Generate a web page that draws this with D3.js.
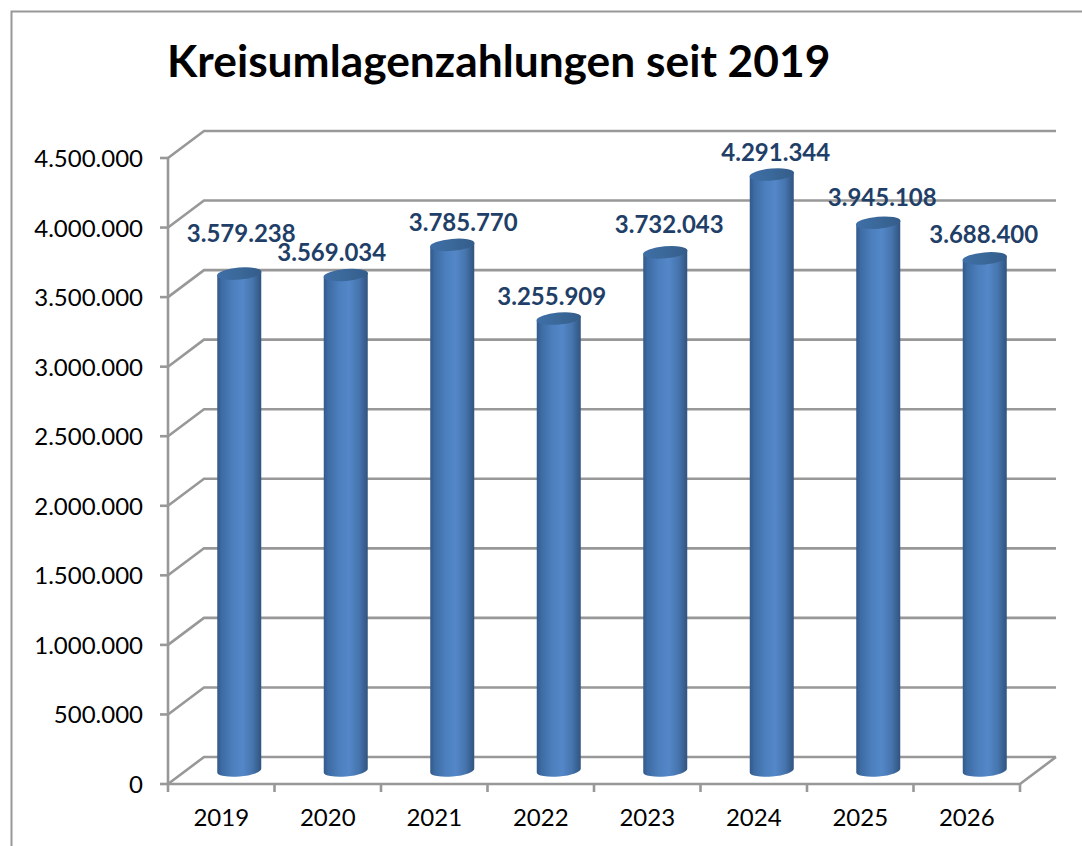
<!DOCTYPE html>
<html><head><meta charset="utf-8">
<script src="https://cdn.jsdelivr.net/npm/d3@7"></script>
<style>html,body{margin:0;padding:0;background:#fff}svg{display:block}text{font-family:Lato,Carlito,sans-serif}</style>
</head><body><div id="c"></div>
<script>
const categories=["2019","2020","2021","2022","2023","2024","2025","2026"];
const values=[3579238,3569034,3785770,3255909,3732043,4291344,3945108,3688400];
const valueLabels=["3.579.238","3.569.034","3.785.770","3.255.909","3.732.043","4.291.344","3.945.108","3.688.400"];
const yTicks=[0,500000,1000000,1500000,2000000,2500000,3000000,3500000,4000000,4500000];
const yTickLabels=["0","500.000","1.000.000","1.500.000","2.000.000","2.500.000","3.000.000","3.500.000","4.000.000","4.500.000"];
const title="Kreisumlagenzahlungen seit 2019";
// label nudges (the source chart's manual placement)
const labelDx=[2,-14,11,-7,4,4,4,-1];
const labelDy=[-1,17,17,17,12,17,14,16];

const W=1082,H=846,gray="#989898";
const svg=d3.select("#c").append("svg").attr("width",W).attr("height",H);
const front={x0:168,x1:1020,y0:784,y1:158};
const depth={dx:36,dy:-27};
const x=d3.scaleBand().domain(categories).range([front.x0,front.x1]);
const y=d3.scaleLinear().domain([0,4500000]).range([front.y0,front.y1]);

const defs=svg.append("defs");
const g=defs.append("linearGradient").attr("id","cyl");
[[0,"#33598a"],[.1,"#3d6ba3"],[.35,"#4c7fbd"],[.58,"#5487c8"],[.8,"#4675ae"],[.93,"#385f8f"],[1,"#31547f"]]
 .forEach(s=>g.append("stop").attr("offset",s[0]).attr("stop-color",s[1]));
const g2=defs.append("linearGradient").attr("id","cap");
[[0,"#3f6fa8"],[.5,"#3a6899"],[1,"#345c8a"]]
 .forEach(s=>g2.append("stop").attr("offset",s[0]).attr("stop-color",s[1]));

svg.append("path").attr("d",`M11.5,${H}V11.5H${W}`).attr("fill","none").attr("stroke",gray).attr("stroke-width",2);

// gridlines on side + back wall
const grid=svg.append("g").attr("fill","none").attr("stroke",gray).attr("stroke-width",2.6);
yTicks.forEach(t=>{
  const py=y(t);
  grid.append("path").attr("d",`M${front.x0},${py}L${front.x0+depth.dx},${py+depth.dy}H${front.x1+depth.dx}`);
  grid.append("path").attr("d",`M${front.x0-8},${py}H${front.x0}`);
});
grid.append("path").attr("d",`M${front.x0},${y(0)}V${y(4500000)}`);
grid.append("path").attr("d",`M${front.x0},${y(0)}H${front.x1}L${front.x1+depth.dx},${y(0)+depth.dy}`);
d3.range(categories.length+1).forEach(i=>{
  const px=front.x0+i*x.step();
  grid.append("path").attr("d",`M${px},${y(0)}v8`);
});

// y labels
svg.append("g").selectAll("text").data(yTicks).join("text")
  .attr("x",143).attr("y",d=>y(d)+9).attr("text-anchor","end")
  .attr("font-size",24).attr("fill","#000").text((d,i)=>yTickLabels[i]);
// x labels
svg.append("g").selectAll("text").data(categories).join("text")
  .attr("x",d=>x(d)+x.bandwidth()/2).attr("y",826).attr("text-anchor","middle")
  .attr("font-size",24).attr("fill","#000").text(d=>d);

// cylinders
const rx=22,ry=6,tilt=-5;
const cyl=svg.append("g").selectAll("g").data(categories).join("g");
const cx=d=>x(d)+x.bandwidth()/2+depth.dx/2;
const base=y(0)+depth.dy/2;
const topY=(i)=>y(values[i])+depth.dy/2;
cyl.append("path")
  .attr("d",(d,i)=>{
    const c=cx(d),t=topY(i)+1,b=base,dy=rx*Math.sin(-tilt*Math.PI/180);
    return `M${c-rx},${t+dy}L${c-rx},${b+dy}A${rx},${ry} ${tilt} 0 0 ${c+rx},${b-dy}L${c+rx},${t-dy}Z`;
  }).attr("fill","url(#cyl)");
cyl.append("ellipse")
  .attr("cx",d=>cx(d)).attr("cy",(d,i)=>topY(i)+1)
  .attr("rx",rx+.3).attr("ry",ry)
  .attr("transform",(d,i)=>`rotate(${tilt} ${cx(d)} ${topY(i)+1})`)
  .attr("fill","url(#cap)");

// value labels
svg.append("g").selectAll("text").data(categories).join("text")
  .attr("x",(d,i)=>cx(d)+labelDx[i]).attr("y",(d,i)=>topY(i)-30+labelDy[i])
  .attr("text-anchor","middle").attr("font-size",24).attr("font-weight",700)
  .attr("fill","#1f3f68").text((d,i)=>valueLabels[i]);

svg.append("text").attr("x",167).attr("y",77).attr("font-size",44.3).attr("font-weight",700).attr("fill","#000").text(title);
</script></body></html>
